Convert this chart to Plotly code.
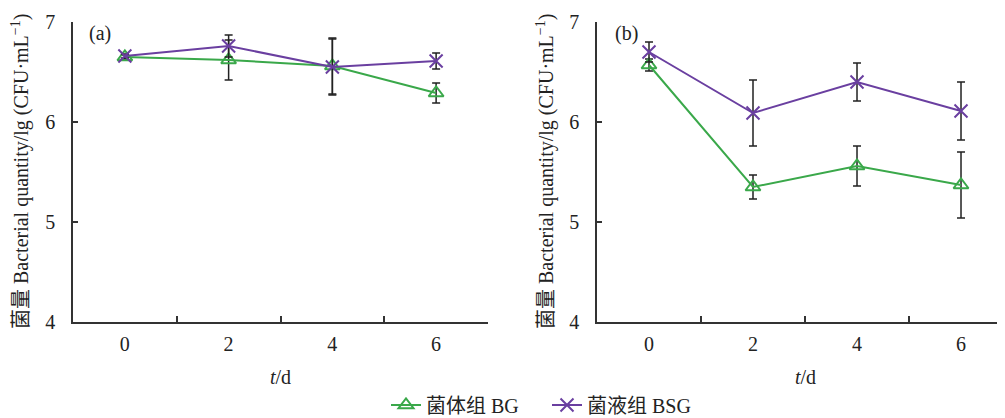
import plotly.graph_objects as go

days = [0, 2, 4, 6]

# Panel (a)
a_bg = [6.65, 6.62, 6.56, 6.29]
a_bg_err = [0.02, 0.20, 0.28, 0.10]
a_bsg = [6.66, 6.76, 6.55, 6.61]
a_bsg_err = [0.02, 0.11, 0.28, 0.08]

# Panel (b)
b_bg = [6.57, 5.35, 5.56, 5.37]
b_bg_err = [0.06, 0.12, 0.20, 0.33]
b_bsg = [6.70, 6.09, 6.40, 6.11]
b_bsg_err = [0.10, 0.33, 0.19, 0.29]

y_ticks = [4, 5, 6, 7]
series_names = ["菌体组 BG", "菌液组 BSG"]
panel_labels = ["(a)", "(b)"]
y_title = "菌量 Bacterial quantity/lg (CFU·mL<sup>−1</sup>)"
x_title = "<i>t</i>/d"

GREEN = "#3aa84a"
PURPLE = "#6a3fa0"
AX = "#333333"
FONT = "Liberation Serif, Noto Sans CJK SC, serif"
TXT = "#222222"

# page body has an 8px margin; size the figure so it fills the 1005x418 window
OFF = 8
W, H = 1005 - OFF, 418 - OFF

def px(xs):
    return (xs - OFF) / W

def py(ys):
    return 1 - (ys - OFF) / H

fig = go.Figure()

def add_pair(bg, bg_err, bsg, bsg_err, xa, ya, show):
    fig.add_trace(go.Scatter(
        x=days, y=bg, name=series_names[0], mode="lines+markers",
        line=dict(color=GREEN, width=2),
        marker=dict(symbol="triangle-up-open", size=13, color=GREEN, line=dict(width=2, color=GREEN)),
        error_y=dict(type="data", array=bg_err, color="#222222", thickness=1.5, width=4),
        xaxis=xa, yaxis=ya, showlegend=show, legendgroup="bg"))
    fig.add_trace(go.Scatter(
        x=days, y=bsg, name=series_names[1], mode="lines+markers",
        line=dict(color=PURPLE, width=2),
        marker=dict(symbol="x-thin-open", size=13, color=PURPLE, line=dict(width=2, color=PURPLE)),
        error_y=dict(type="data", array=bsg_err, color="#222222", thickness=1.5, width=4),
        xaxis=xa, yaxis=ya, showlegend=show, legendgroup="bsg"))

add_pair(a_bg, a_bg_err, a_bsg, a_bsg_err, "x", "y", True)
add_pair(b_bg, b_bg_err, b_bsg, b_bsg_err, "x2", "y2", False)

ydom = [py(322), py(22)]

def xaxis(domain, rng, anchor):
    return dict(domain=domain, range=rng, anchor=anchor, showline=True, linecolor=AX, linewidth=1.5,
                tickvals=days, ticks="", showgrid=False, zeroline=False, automargin=False,
                ticklabelstandoff=3,
                tickfont=dict(family=FONT, size=20, color=TXT),
                minor=dict(tickvals=[1, 3, 5], ticks="inside", ticklen=6, tickcolor=AX, tickwidth=1.5),
                fixedrange=True)

def yaxis(anchor):
    return dict(domain=ydom, range=[4, 7], anchor=anchor, showline=True, linecolor=AX, linewidth=1.5,
                tickvals=y_ticks, ticks="inside", ticklen=5, tickcolor=AX, tickwidth=1.5,
                showgrid=False, zeroline=False, ticklabelstandoff=12, automargin=False,
                tickfont=dict(family=FONT, size=20, color=TXT), fixedrange=True)

fig.update_layout(
    template="none",
    width=W, height=H, margin=dict(l=0, r=0, t=0, b=0, autoexpand=False),
    paper_bgcolor="white", plot_bgcolor="white",
    xaxis=xaxis([px(73), px(488)], [-1, 7], "y"),
    yaxis=yaxis("x"),
    xaxis2=xaxis([px(597), 1.0], [-1, 6.846], "y2"),
    yaxis2=yaxis("x2"),
    showlegend=True,
    legend=dict(orientation="h", x=px(386), xanchor="left", y=py(405), yanchor="middle",
                font=dict(family=FONT, size=20, color=TXT), tracegroupgap=0,
                entrywidth=116, entrywidthmode="pixels",
                bgcolor="rgba(0,0,0,0)"),
    font=dict(family=FONT, color=TXT),
)

annotations = []
for xc, yx in [(280, 20), (805, 545)]:
    annotations.append(dict(x=px(xc), y=py(377), xref="paper", yref="paper", text=x_title,
                            xanchor="center", yanchor="middle",
                            showarrow=False, font=dict(family=FONT, size=20, color=TXT)))
    annotations.append(dict(x=px(yx), y=py(172), xref="paper", yref="paper", text=y_title,
                            xanchor="center", yanchor="middle",
                            textangle=-90, showarrow=False, font=dict(family=FONT, size=20, color=TXT)))
for xc, lab in [(100, panel_labels[0]), (626, panel_labels[1])]:
    annotations.append(dict(x=px(xc), y=py(33), xref="paper", yref="paper", text=lab,
                            xanchor="center", yanchor="middle",
                            showarrow=False, font=dict(family=FONT, size=20, color=TXT)))
fig.update_layout(annotations=annotations)

fig.write_html("out.html")
